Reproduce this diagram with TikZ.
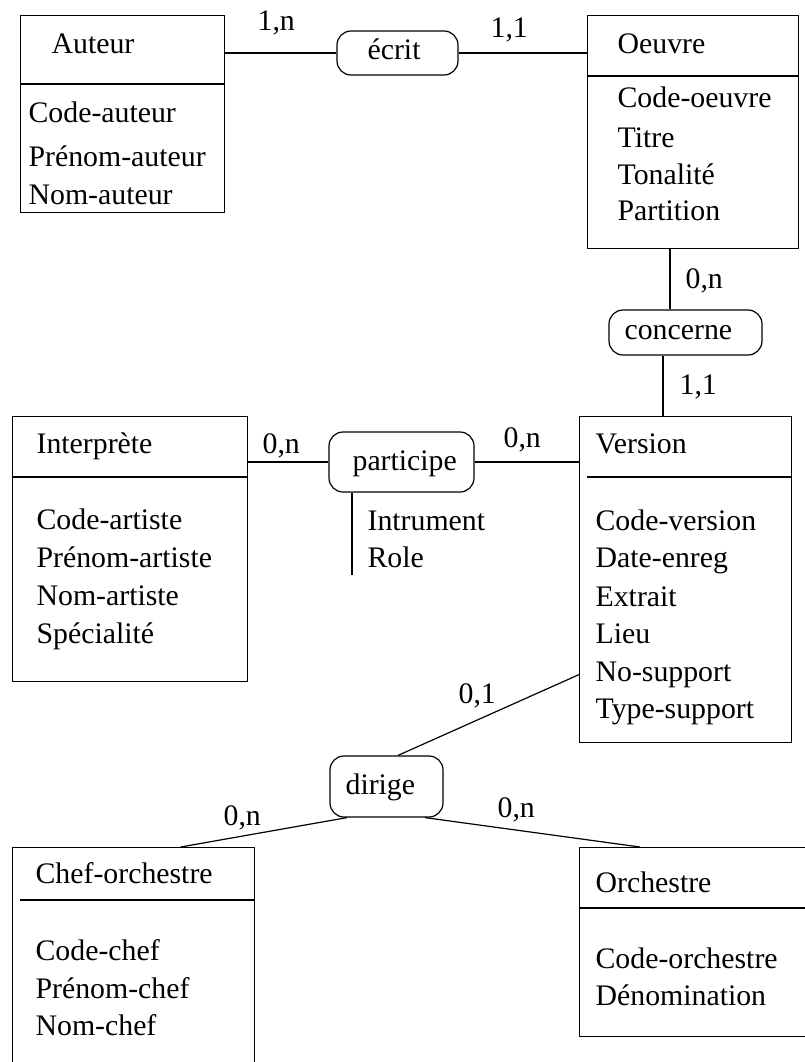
\documentclass[tikz,border=0pt]{standalone}
\usepackage{fontspec}
\setmainfont{Liberation Serif}
\begin{document}
\begin{tikzpicture}[x=1pt,y=-1pt,
  font=\fontsize{29.8}{36}\selectfont,
  line width=1.2pt,
  entity/.style={draw, rectangle, anchor=north west, inner sep=0pt, line width=1.2pt},
  rel/.style={draw, rectangle, rounded corners=14pt, inner sep=0pt, line width=1.2pt},
  txt/.style={anchor=base west, inner sep=0pt},
  conn/.style={line width=1.2pt}]
\useasboundingbox (0,0) rectangle (805,1062);
\clip (0,0) rectangle (805,1062);

% ---------- entities ----------
\node[entity, minimum width=204pt, minimum height=197pt] (auteur) at (20,15) {};
\draw (20,84) -- (224,84);
\node[txt] (tauteur) at (51,54) {Auteur};
\node[txt] (a1) at (28,122) {Code-auteur};
\node[txt] (a2) at (28,166) {Prénom-auteur};
\node[txt] (a3) at (28,204) {Nom-auteur};

\node[entity, minimum width=211pt, minimum height=233pt] (oeuvre) at (587,15) {};
\draw (587,76) -- (798,76);
\node[txt] (toeuvre) at (617,54) {Oeuvre};
\node[txt] (o1) at (617,108) {Code-oeuvre};
\node[txt] (o2) at (617,147) {Titre};
\node[txt] (o3) at (617,184) {Tonalité};
\node[txt] (o4) at (617,220) {Partition};

\node[entity, minimum width=235pt, minimum height=265pt] (interprete) at (12,416) {};
\draw (12,477) -- (247,477);
\node[txt] (tinterprete) at (36,453) {Interprète};
\node[txt] (i1) at (36,529) {Code-artiste};
\node[txt] (i2) at (36,567) {Prénom-artiste};
\node[txt] (i3) at (36,605) {Nom-artiste};
\node[txt] (i4) at (36,643) {Spécialité};

\node[entity, minimum width=212pt, minimum height=326pt] (version) at (579,416) {};
\draw (587,477) -- (791,477);
\node[txt] (tversion) at (595,453) {Version};
\node[txt] (v1) at (595,530) {Code-version};
\node[txt] (v2) at (595,567) {Date-enreg};
\node[txt] (v3) at (595,606) {Extrait};
\node[txt] (v4) at (595,643) {Lieu};
\node[txt] (v5) at (595,681) {No-support};
\node[txt] (v6) at (595,718) {Type-support};

\node[entity, minimum width=242pt, minimum height=228pt] (chef) at (12,847) {};
\draw (20,900) -- (254,900);
\node[txt] (tchef) at (35,883) {Chef-orchestre};
\node[txt] (c1) at (35,960) {Code-chef};
\node[txt] (c2) at (35,998) {Prénom-chef};
\node[txt] (c3) at (35,1035) {Nom-chef};

\node[entity, minimum width=236pt, minimum height=189pt] (orchestre) at (579,847) {};
\draw (579,908) -- (815,908);
\node[txt] (torchestre) at (595,892) {Orchestre};
\node[txt] (r1) at (595,968) {Code-orchestre};
\node[txt] (r2) at (595,1005) {Dénomination};

% ---------- relations ----------
\node[rel, minimum width=121pt, minimum height=44pt] (ecrit) at (397.5,53) {};
\node[txt] (tecrit) at (367,60) {écrit};
\node[rel, minimum width=153pt, minimum height=45pt] (concerne) at (685.5,332.5) {};
\node[txt] (tconcerne) at (624,339) {concerne};
\node[rel, minimum width=145pt, minimum height=60pt] (participe) at (401.5,462) {};
\node[txt] (tparticipe) at (352,470) {participe};
\node[rel, minimum width=113pt, minimum height=61pt] (dirige) at (386.5,786.5) {};
\node[txt] (tdirige) at (345,794) {dirige};

% participe attributes
\coordinate (pend) at (352,575);
\draw[conn] ([xshift=-49.5pt]participe.south) -- (pend);
\node[txt] (p1) at (367,530) {Intrument};
\node[txt] (p2) at (367,567) {Role};

% ---------- connectors ----------
\draw[conn] (auteur.east |- ecrit.west) -- (ecrit.west);
\draw[conn] (ecrit.east) -- (ecrit.east -| oeuvre.west);
\draw[conn] ([xshift=-15.5pt]concerne.north) -- ([xshift=-15.5pt]concerne.north |- oeuvre.south);
\draw[conn] ([xshift=-22.5pt]concerne.south) -- ([xshift=-22.5pt]concerne.south |- version.north);
\draw[conn] (participe.west -| interprete.east) -- (participe.west);
\draw[conn] (participe.east) -- (participe.east -| version.west);
\draw[conn] ([xshift=11.5pt]dirige.north) -- ([yshift=-95pt]version.west);
\draw[conn] ([xshift=-39.5pt]dirige.south) -- ([xshift=47pt]chef.north);
\draw[conn] ([xshift=38.5pt]dirige.south) -- ([xshift=61pt]orchestre.north west);

% ---------- cardinalities ----------
\node[txt] (k1) at (257,31) {1,n};
\node[txt] (k2) at (490,38) {1,1};
\node[txt] (k3) at (685,288) {0,n};
\node[txt] (k4) at (679,394) {1,1};
\node[txt] (k5) at (262,453) {0,n};
\node[txt] (k6) at (503,447) {0,n};
\node[txt] (k7) at (458,703) {0,1};
\node[txt] (k8) at (223,825) {0,n};
\node[txt] (k9) at (497,817) {0,n};
\end{tikzpicture}
\end{document}
